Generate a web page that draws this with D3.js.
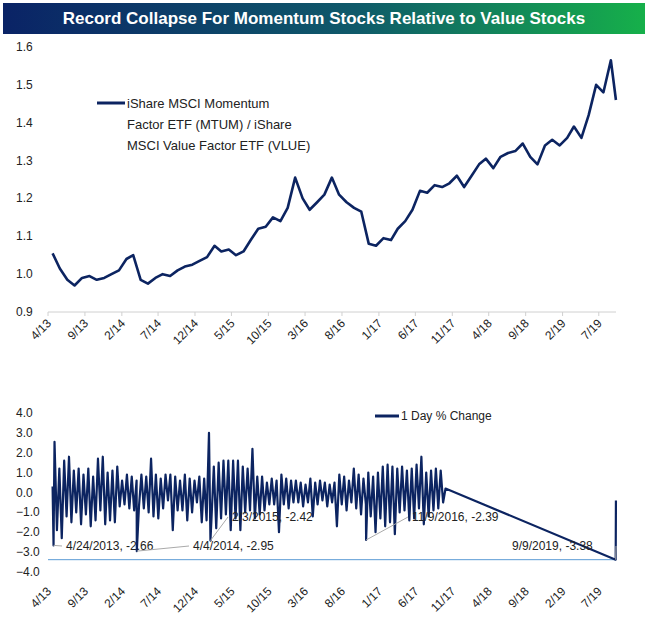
<!DOCTYPE html>
<html>
<head>
<meta charset="utf-8">
<script src="https://cdn.jsdelivr.net/npm/d3@7/dist/d3.min.js"></script>
<style>
  body { margin: 0; background: #fff; }
  text { font-family: "Liberation Sans Narrow", "Liberation Sans", Arial, sans-serif; fill: #222; }
</style>
</head>
<body>
<svg id="chart" width="647" height="618"></svg>
<script>
// ratio MTUM / VLUE, month-end estimates starting 2013-04
var ratioStart = "2013-04-20";
var ratioValues = [
  1.055, 1.015, 0.985, 0.97, 0.99, 0.995, 0.985, 0.99, 1.0,
  1.01, 1.04, 1.05, 0.985, 0.975, 0.99, 1.0, 0.995, 1.01, 1.02, 1.025, 1.035,
  1.045, 1.075, 1.06, 1.065, 1.05, 1.06, 1.09, 1.12, 1.125, 1.15, 1.14, 1.175,
  1.255, 1.2, 1.17, 1.19, 1.21, 1.255, 1.21, 1.19, 1.175, 1.165, 1.08, 1.075,
  1.095, 1.09, 1.12, 1.14, 1.17, 1.22, 1.215, 1.235, 1.23, 1.24, 1.26, 1.23,
  1.26, 1.29, 1.305, 1.28, 1.31, 1.32, 1.325, 1.345, 1.31, 1.29, 1.34, 1.355,
  1.34, 1.36, 1.39, 1.36, 1.42, 1.5, 1.48, 1.565, 1.46
];

// 1 day % change, sampled every ~10 days from 2013-04-28
var chgStart = "2013-04-28";
var chgValues = [
  2.55, -1.9, 1.2, -2.3, 1.6, -1.2, 1.8, -1.5, 1.1, -1.0, 1.2, -1.6, 0.9, -1.1, 1.2, -1.7, 0.8, -1.4, 1.7, -0.9,
  1.8, -1.6, 1.0, -1.4, 1.1, -1.5, 1.3, -0.7, 0.6, -0.6, 0.9, -0.8, 0.8, -0.9, 0.6, -0.7,
  0.9, -0.8, 0.8, -1.0, 1.7, -1.2, 0.9, -1.3, 0.7, -0.8, 0.9, -0.4, 0.9, -1.9, 0.8, -0.9,
  0.6, -0.9, 0.9, -1.4, 0.7, -1.0, 0.6, -0.5, 0.8, -1.5, 0.7, -1.4, 3.0, -1.4, 1.3, -1.8,
  1.5, -1.3, 1.6, -1.1, 1.6, -1.9, 1.6, -1.3, 1.6, -1.9, 1.3, -1.0, 1.2, -0.9, 2.2, -1.3,
  0.8, -1.1, 0.8, -0.9, 0.5, -0.6, 0.7, -0.6, 0.6, -2.0, 0.9, -0.6, 0.7, -0.8, 0.6, -0.5,
  0.6, -0.5, 0.5, -0.7, 0.4, -0.5, 0.7, -1.2, 0.5, -0.6, 0.6, -0.4, 0.5, -0.7, 0.4, -0.5,
  0.5, -1.7, 0.9, -0.6, 0.8, -0.9, 0.6, -0.5, 1.2, -0.8, 0.9, -1.1, 0.7, -0.6, 1.0, -1.2,
  0.8, -2.0, 1.0, -1.3, 1.3, -1.7, 1.4, -1.5, 1.3, -2.1, 1.2, -1.0, 1.3, -0.9, 1.1, -1.4,
  1.2, -1.3, 1.4, -0.8, 1.8, -1.6, 1.0, -1.2, 1.1, -0.9, 1.2, -0.8, 1.1, -0.5, 0.2
];

// annotated extremes
var noteDates = ["2013-04-24", "2014-04-04", "2015-02-03", "2016-11-09", "2019-09-09"];
var noteValues = [-2.66, -2.95, -2.42, -2.39, -3.38];
var noteLabels = ["4/24/2013, -2.66", "4/4/2014, -2.95", "2/3/2015, -2.42", "11/9/2016, -2.39", "9/9/2019, -3.38"];
var noteLabelPos = [[66, 550], [193, 550], [232, 521], [412, 521], [512, 550]];

var tickLabels = ["4/13","9/13","2/14","7/14","12/14","5/15","10/15","3/16","8/16","1/17","6/17","11/17","4/18","9/18","2/19","7/19"];

var parse = d3.timeParse("%Y-%m-%d");
var parseTick = d3.timeParse("%m/%y");

var ratioData = ratioValues.map(function(v, i) {
  return { date: d3.timeMonth.offset(parse(ratioStart), i), value: v };
});
ratioData[ratioData.length - 1].date = parse("2019-09-10");

var chgData = chgValues.map(function(v, i) {
  return { date: d3.timeDay.offset(parse(chgStart), i * 10), value: v };
});
noteDates.forEach(function(d, i) {
  chgData.push({ date: parse(d), value: noteValues[i] });
});
chgData.push({ date: parse("2013-04-20"), value: 0.3 });
chgData.push({ date: parse("2019-09-10"), value: -0.4 });
chgData.sort(function(a, b) { return a.date - b.date; });

var svg = d3.select("#chart");
var navy = "#0c2461";

// title banner
var grad = svg.append("defs").append("linearGradient").attr("id", "bg");
grad.append("stop").attr("offset", "0%").attr("stop-color", "#0a2366");
grad.append("stop").attr("offset", "55%").attr("stop-color", "#0f5a6a");
grad.append("stop").attr("offset", "100%").attr("stop-color", "#16b04a");
svg.append("rect").attr("x", 3).attr("y", 3).attr("width", 642).attr("height", 31).attr("fill", "url(#bg)");
svg.append("text").attr("x", 324).attr("y", 24).attr("text-anchor", "middle")
  .style("fill", "#fff").style("font-weight", "bold").style("font-size", "17px")
  .text("Record Collapse For Momentum Stocks Relative to Value Stocks");

var x = d3.scaleTime().domain([parse("2013-04-01"), parse("2019-10-01")]).range([48, 621]);

function xAxis(g, y0, baseline) {
  if (baseline) g.append("line").attr("x1", 48).attr("x2", 616).attr("y1", y0).attr("y2", y0).attr("stroke", "#d0d0d0");
  tickLabels.forEach(function(t) {
    var xx = x(parseTick(t));
    if (baseline) g.append("line").attr("x1", xx).attr("x2", xx).attr("y1", y0).attr("y2", y0 + 4).attr("stroke", "#d0d0d0");
    g.append("text").attr("transform", "translate(" + (xx + 4) + "," + (y0 + 12) + ") rotate(-45)")
      .attr("text-anchor", "end").style("font-size", "12px").text(t);
  });
}

// top panel
var y1 = d3.scaleLinear().domain([0.9, 1.6]).range([312, 47]);
var topG = svg.append("g");
y1.ticks(7).forEach(function(t) {
  topG.append("text").attr("x", 16).attr("y", y1(t) + 4).style("font-size", "12px").text(d3.format(".1f")(t));
});
xAxis(topG, 312, true);
topG.append("path").datum(ratioData)
  .attr("fill", "none").attr("stroke", navy).attr("stroke-width", 2.6).attr("stroke-linejoin", "round")
  .attr("d", d3.line().x(function(d) { return x(d.date); }).y(function(d) { return y1(d.value); }));
topG.append("line").attr("x1", 97).attr("x2", 125).attr("y1", 103).attr("y2", 103).attr("stroke", navy).attr("stroke-width", 3);
["iShare MSCI Momentum", "Factor ETF (MTUM) / iShare", "MSCI Value Factor ETF (VLUE)"].forEach(function(s, i) {
  topG.append("text").attr("x", 127).attr("y", 108 + i * 21).style("font-size", "13px").text(s);
});

// bottom panel
var y2 = d3.scaleLinear().domain([-4, 4]).range([572, 413]);
var botG = svg.append("g");
y2.ticks(8).forEach(function(t) {
  botG.append("text").attr("x", 16).attr("y", y2(t) + 4).style("font-size", "12px").text(d3.format(".1f")(t));
});
botG.append("line").attr("x1", 48).attr("x2", 616).attr("y1", y2(-3.38)).attr("y2", y2(-3.38)).attr("stroke", "#5b9bd5");
botG.append("path").datum(chgData)
  .attr("fill", "none").attr("stroke", navy).attr("stroke-width", 2.2).attr("stroke-linejoin", "round")
  .attr("d", d3.line().x(function(d) { return x(d.date); }).y(function(d) { return y2(d.value); }));
xAxis(botG, 580, false);
noteDates.forEach(function(d, i) {
  var px = x(parse(d)), py = y2(noteValues[i]);
  var lp = noteLabelPos[i];
  var lx = i === 4 ? lp[0] + 104 : lp[0] - 4;
  botG.append("line").attr("x1", px).attr("y1", py).attr("x2", lx).attr("y2", lp[1] - 4).attr("stroke", "#aaa");
  botG.append("text").attr("x", lp[0]).attr("y", lp[1]).style("font-size", "12px").text(noteLabels[i]);
});
botG.append("line").attr("x1", 375).attr("x2", 399).attr("y1", 416).attr("y2", 416).attr("stroke", navy).attr("stroke-width", 3);
botG.append("text").attr("x", 401).attr("y", 420).style("font-size", "12px").text("1 Day % Change");
</script>
</body>
</html>
